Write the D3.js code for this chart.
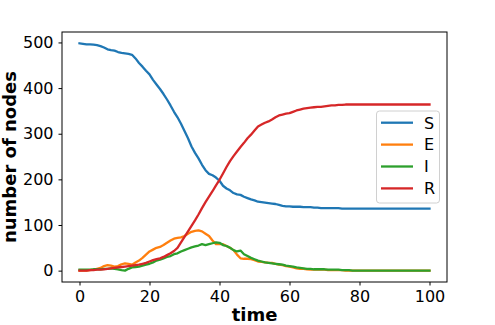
<!DOCTYPE html>
<html>
<head>
<meta charset="utf-8">
<script src="https://cdn.jsdelivr.net/npm/d3@7"></script>
<style>
  body { margin: 0; background: #fff; }
  svg text { font-family: "DejaVu Sans", sans-serif; }
</style>
</head>
<body>
<div class="container"></div>
<script>
// time steps 0..100
const times = d3.range(0, 101);
const seriesNames = ['S', 'E', 'I', 'R'];
const seriesColors = ['#1f77b4', '#ff7f0e', '#2ca02c', '#d62728'];
const xTicks = [0, 20, 40, 60, 80, 100];
const yTicks = [0, 100, 200, 300, 400, 500];

// values
const sValues = [498, 497, 496, 496, 495, 494, 492, 489, 485, 483,
  482, 479, 477, 476, 475, 473, 465, 455, 447, 438,
  430, 418, 408, 398, 387, 375, 362, 348, 336, 322,
  306, 290, 272, 258, 246, 232, 220, 212, 209, 204,
  197, 186, 180, 176, 170, 167, 166, 162, 159, 156,
  154, 151, 150, 149, 148, 147, 146, 144, 142, 141,
  141, 140, 140, 140, 139, 139, 139, 138, 138, 137,
  137, 137, 137, 137, 137, 136, 136, 136, 136, 136,
  136, 136, 136, 136, 136, 136, 136, 136, 136, 136,
  136, 136, 136, 136, 136, 136, 136, 136, 136, 136, 136];
const eValues = [0, 0, 0, 1, 2, 4, 6, 10, 12, 11,
  9, 10, 14, 16, 15, 13, 18, 22, 28, 35,
  42, 46, 50, 52, 56, 61, 66, 70, 72, 73,
  76, 81, 85, 87, 88, 86, 81, 76, 66, 58,
  58, 58, 54, 50, 45, 35, 27, 26, 26, 25,
  23, 20, 19, 18, 17, 17, 15, 13, 12, 10,
  9, 7, 5, 4, 4, 3, 2, 2, 3, 2,
  2, 1, 1, 1, 1, 1, 0, 0, 0, 0,
  0, 0, 0, 0, 0, 0, 0, 0, 0, 0,
  0, 0, 0, 0, 0, 0, 0, 0, 0, 0, 0];
const iValues = [2, 2, 2, 2, 3, 3, 3, 4, 4, 5,
  4, 3, 1, 0, 4, 7, 8, 9, 11, 13,
  15, 18, 22, 24, 27, 30, 32, 36, 38, 42,
  45, 48, 51, 53, 55, 58, 56, 58, 60, 62,
  61, 56, 54, 50, 45, 42, 44, 36, 32, 28,
  25, 22, 20, 18, 17, 16, 15, 14, 13, 11,
  10, 9, 7, 6, 5, 4, 4, 3, 3, 3,
  3, 2, 2, 2, 2, 1, 1, 1, 0, 0,
  0, 0, 0, 0, 0, 0, 0, 0, 0, 0,
  0, 0, 0, 0, 0, 0, 0, 0, 0, 0, 0];
const rValues = [0, 0, 0, 1, 1, 2, 2, 3, 4, 5,
  6, 7, 8, 9, 10, 11, 12, 13, 15, 17,
  20, 23, 25, 27, 30, 34, 38, 43, 50, 62,
  74, 86, 98, 110, 123, 137, 150, 162, 174, 187,
  199, 213, 227, 240, 251, 261, 271, 280, 290, 298,
  307, 316, 320, 324, 327, 331, 336, 340, 342, 344,
  345, 348, 351, 353, 355, 356, 357, 358, 359, 359,
  360, 361, 362, 362, 363, 363, 364, 364, 364, 364,
  364, 364, 364, 364, 364, 364, 364, 364, 364, 364,
  364, 364, 364, 364, 364, 364, 364, 364, 364, 364, 364];

const allSeries = [sValues, eValues, iValues, rValues];

const width = 495, height = 325;
const plotLeft = 62, plotRight = 447, plotTop = 32, plotBottom = 282;

let svg = d3.select('.container')
  .append('svg')
  .attr('width', width)
  .attr('height', height)

let x = d3.scaleLinear()
  .domain([-5, 105])
  .range([plotLeft, plotRight])
let yMax = d3.max(allSeries, s => d3.max(s))
let yMin = 0
let yPad = (yMax - yMin) * 0.05
let y = d3.scaleLinear()
  .domain([yMin - yPad, yMax + yPad])
  .range([plotBottom, plotTop])

let line = d3.line()
  .x((d, i) => x(times[i]))
  .y(d => y(d))

svg.append('g')
  .selectAll('path')
  .data(allSeries)
  .enter()
  .append('path')
  .attr('d', d => line(d))
  .attr('fill', 'none')
  .attr('stroke', (d, i) => seriesColors[i])
  .attr('stroke-width', 2.3)
  .attr('stroke-linejoin', 'round')
  .attr('stroke-linecap', 'square')

// spines
svg.append('rect')
  .attr('x', plotLeft)
  .attr('y', plotTop)
  .attr('width', plotRight - plotLeft)
  .attr('height', plotBottom - plotTop)
  .attr('fill', 'none')
  .attr('stroke', '#000')
  .attr('stroke-width', 1)

let xAxis = d3.axisBottom(x)
  .tickValues(xTicks)
  .tickSize(3.5)
  .tickSizeOuter(0)
  .tickPadding(5.5)
let yAxis = d3.axisLeft(y)
  .tickValues(yTicks)
  .tickSize(3.5)
  .tickSizeOuter(0)
  .tickPadding(5)

let gx = svg.append('g')
  .attr('transform', `translate(0,${plotBottom})`)
  .call(xAxis)
let gy = svg.append('g')
  .attr('transform', `translate(${plotLeft},0)`)
  .call(yAxis)
for (let g of [gx, gy]) {
  g.select('.domain').remove()
  g.selectAll('text').attr('font-size', 16).attr('fill', '#000')
    .attr('font-family', '"DejaVu Sans", sans-serif')
  g.selectAll('line').attr('stroke', '#000')
}

svg.append('text')
  .attr('x', (plotLeft + plotRight) / 2)
  .attr('y', 321)
  .attr('text-anchor', 'middle')
  .attr('font-size', 18)
  .attr('font-weight', 'bold')
  .text('time')

svg.append('text')
  .attr('transform', `translate(16,${(plotTop + plotBottom) / 2}) rotate(-90)`)
  .attr('text-anchor', 'middle')
  .attr('font-size', 18)
  .attr('font-weight', 'bold')
  .text('number of nodes')

// legend
let legend = svg.append('g')
legend.append('rect')
  .attr('x', 376.5)
  .attr('y', 111)
  .attr('width', 63)
  .attr('height', 92)
  .attr('rx', 3)
  .attr('fill', '#fff')
  .attr('fill-opacity', 0.8)
  .attr('stroke', '#d0d0d0')
  .attr('stroke-width', 1)
let items = legend.selectAll('g.item')
  .data(seriesNames)
  .enter()
  .append('g')
  .attr('transform', (d, i) => `translate(0,${122.7 + i * 21.9})`)
items.append('line')
  .attr('x1', 381)
  .attr('x2', 413)
  .attr('stroke', (d, i) => seriesColors[i])
  .attr('stroke-width', 2.3)
items.append('text')
  .attr('x', 424)
  .attr('y', 5.8)
  .attr('font-size', 16)
  .text(d => d)
</script>
</body>
</html>
